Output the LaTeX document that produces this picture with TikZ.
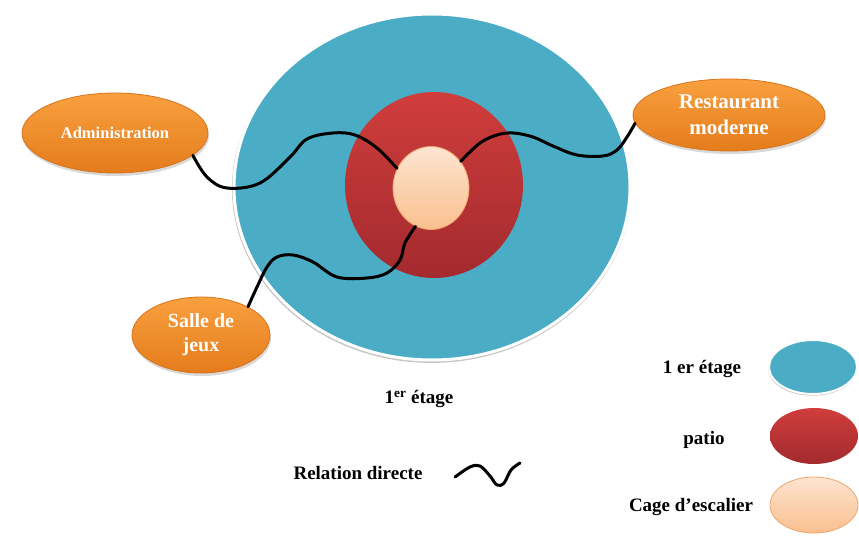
\documentclass[tikz,border=0pt]{standalone}
\usepackage{fontspec}
\setmainfont{Liberation Serif}
\usetikzlibrary{shapes.geometric,shadows,positioning}

\definecolor{etageblue}{HTML}{4BACC6}
\definecolor{patiotop}{HTML}{D03D3C}
\definecolor{patiobot}{HTML}{A32A2E}
\definecolor{cagetop}{HTML}{FDE4D0}
\definecolor{cagebot}{HTML}{FAC08F}
\definecolor{cageline}{HTML}{EFA56A}
\definecolor{orangetop}{HTML}{F9A03F}
\definecolor{orangebot}{HTML}{E47C1C}
\definecolor{orangeline}{HTML}{D8741C}

\tikzset{
		zone/.style    = {shape=ellipse, inner sep=0pt},
		etage/.style   = {zone, fill=etageblue, draw=white, line width=3pt,
				drop shadow={shadow scale=1.008, shadow xshift=-0.5pt, shadow yshift=-1.5pt,
					fill=black!45, opacity=0.5}},
		patio/.style   = {zone, top color=patiotop, bottom color=patiobot},
		cage/.style    = {zone, top color=cagetop, bottom color=cagebot,
				draw=cageline, line width=0.8pt},
		salle/.style   = {zone, draw=orangeline, line width=0.8pt,
				top color=orangetop, bottom color=orangebot,
				text=white, align=center, font=\bfseries,
				drop shadow={shadow xshift=1pt, shadow yshift=-3pt, opacity=0.3}},
		legende/.style = {font=\bfseries\fontsize{19}{23}\selectfont},
		lien/.style    = {line width=3pt, line cap=round, line join=round}
	}

\begin{document}
\begin{tikzpicture}[x=1pt, y=-1pt]
				\useasboundingbox (0,0) rectangle (859,536);
				% plan du 1er etage
				\node [etage, minimum width=396pt, minimum height=346pt] (etage) at (432,187) {};
				\node [patio, minimum width=178pt, minimum height=186pt] (patio) at (434,185) {};
				\node [cage, minimum width=76pt, minimum height=83pt] (core) at (431,188) {};
				% espaces
				\node [salle, minimum width=186pt, minimum height=80pt,
					font=\bfseries\fontsize{16.5}{20}\selectfont] (admin) at (115,133) {Administration};
				\node [salle, minimum width=192pt, minimum height=72pt,
					font=\bfseries\fontsize{21}{26}\selectfont] (resto) at (729,115) {Restaurant\\moderne};
				\node [salle, minimum width=138pt, minimum height=76pt,
					font=\bfseries\fontsize{20}{24}\selectfont] (jeux) at (201,335) {Salle de\\jeux};
				% relations
				\draw [lien] plot [smooth, tension=0.6] coordinates {(admin.-16) (207,177) (227,188) (260,183)
					(290,157) (307,139) (333,133) (355,135) (377,148) (core.150)};
				\draw [lien] plot [smooth, tension=0.6] coordinates {(jeux.31) (257,287) (267,267) (277,257)
					(293,255) (313,262) (337,277) (367,278) (387,273) (400,260) (405,243) (core.-112)};
				\draw [lien] plot [smooth, tension=0.6] coordinates {(core.42) (480,143) (497,135) (513,133)
					(533,137) (553,146) (577,155) (603,156) (617,150) (627,137) (resto.185)};
				\node [legende] (titre) at (419,399) {1\textsuperscript{er} étage};
				% legende
				\node [legende] (rel) at (358,473) {Relation directe};
				\coordinate (sqA) at (455,477);
				\coordinate (sqB) at (520,463);
				\draw [lien] plot [smooth, tension=0.6] coordinates {(sqA) (470,467) (480,466) (490,476)
					(497,485) (504,483) (511,470) (sqB)};
				\node [etage, line width=2pt, minimum width=88pt, minimum height=54pt] (lgEtage) at (813,367) {};
				\node [patio, minimum width=88pt, minimum height=56pt] (lgPatio) at (814,436) {};
				\node [cage, minimum width=88pt, minimum height=56pt] (lgCage) at (814,505) {};
				\node [legende] (txEtage) at (702,369) {1 er étage};
				\node [legende] (txPatio) at (704,440) {patio};
				\node [legende] (txCage) at (691,507) {Cage d’escalier};
			\end{tikzpicture}
\end{document}
